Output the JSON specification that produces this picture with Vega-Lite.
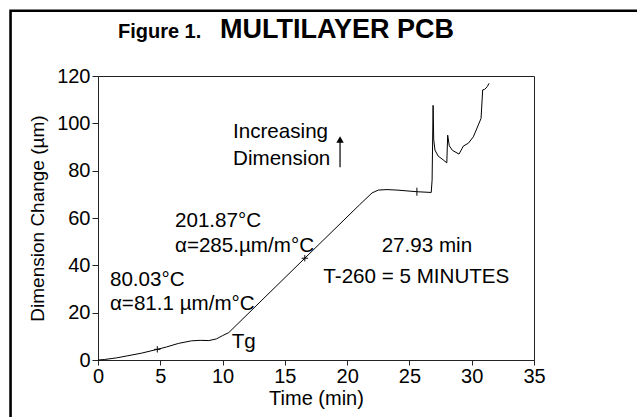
{
  "$schema": "https://vega.github.io/schema/vega-lite/v6.json",
  "autosize": "none",
  "width": 436,
  "height": 284,
  "padding": {"left": 98, "top": 76, "right": 103, "bottom": 57},
  "background": "white",
  "config": {
    "font": "Liberation Sans",
    "view": {"stroke": "#222", "strokeWidth": 1},
    "axis": {
      "domainColor": "#222",
      "tickColor": "#222",
      "labelColor": "black",
      "titleColor": "black",
      "grid": false,
      "labelFont": "Liberation Sans",
      "titleFont": "Liberation Sans",
      "labelFontSize": 20,
      "titleFontSize": 20,
      "titleFontWeight": "normal"
    }
  },
  "datasets": {
    "curve": [
      {"t": 0, "v": 0},
      {"t": 0.5, "v": 0.2},
      {"t": 1.5, "v": 0.9},
      {"t": 2.4, "v": 1.8},
      {"t": 3.5, "v": 2.9},
      {"t": 4.76, "v": 4.5},
      {"t": 5.5, "v": 5.5},
      {"t": 6.45, "v": 7.0},
      {"t": 7.5, "v": 8.1},
      {"t": 8.2, "v": 8.3},
      {"t": 8.9, "v": 8.2},
      {"t": 9.5, "v": 8.9},
      {"t": 10.0, "v": 10.3},
      {"t": 10.5, "v": 11.6},
      {"t": 16.6, "v": 43.0},
      {"t": 21.0, "v": 65.6},
      {"t": 22.0, "v": 70.6},
      {"t": 22.5, "v": 71.8},
      {"t": 23.2, "v": 72.0},
      {"t": 24.0, "v": 71.8},
      {"t": 25.6, "v": 71.1},
      {"t": 26.75, "v": 70.8},
      {"t": 26.82, "v": 76.0},
      {"t": 26.9, "v": 107.6},
      {"t": 26.95, "v": 93.0},
      {"t": 27.05, "v": 88.7},
      {"t": 27.3, "v": 86.2},
      {"t": 27.7, "v": 84.6},
      {"t": 28.0, "v": 83.3},
      {"t": 28.07, "v": 95.0},
      {"t": 28.2, "v": 90.5},
      {"t": 28.45, "v": 88.6},
      {"t": 28.98, "v": 87.0},
      {"t": 29.33, "v": 90.4},
      {"t": 29.73, "v": 91.6},
      {"t": 30.13, "v": 94.3},
      {"t": 30.53, "v": 99.3},
      {"t": 30.75, "v": 102.1},
      {"t": 30.88, "v": 114.1},
      {"t": 31.05, "v": 114.4},
      {"t": 31.25, "v": 115.5},
      {"t": 31.39, "v": 116.9}
    ],
    "crosses": [
      {"t": 4.76, "v": 4.5},
      {"t": 16.6, "v": 43.0}
    ],
    "vticks": [
      {"t": 25.6, "v": 71.1}
    ],
    "labels": [
      {"t": 0.96, "v": 31.3, "label": "80.03°C"},
      {"t": 0.96, "v": 21.1, "label": "α=81.1 µm/m°C"},
      {"t": 6.18, "v": 56.3, "label": "201.87°C"},
      {"t": 6.18, "v": 45.8, "label": "α=285.µm/m°C"},
      {"t": 10.73, "v": 4.9, "label": "Tg"},
      {"t": 10.84, "v": 93.7, "label": "Increasing"},
      {"t": 10.84, "v": 82.4, "label": "Dimension"},
      {"t": 22.77, "v": 45.8, "label": "27.93 min"},
      {"t": 18.09, "v": 32.4, "label": "T-260 = 5 MINUTES"}
    ],
    "titleSmall": [
      {"t": 1.6, "v": 136.0, "label": "Figure 1."}
    ],
    "titleBig": [
      {"t": 9.8, "v": 136.0, "label": "MULTILAYER PCB"}
    ],
    "arrow": [
      {"t": 19.43, "v": 81.4, "v2": 92.5}
    ],
    "arrowHead": [
      {"t": 19.43, "v": 93.2}
    ],
    "frame": [
      {"t": -7.02, "t2": 46, "v": 147.6, "v2": -30}
    ]
  },
  "layer": [
    {
      "data": {"name": "frame"},
      "mark": {"type": "rect", "fill": null, "filled": false, "stroke": "black", "strokeWidth": 2.6, "clip": false},
      "encoding": {
        "x": {"field": "t", "type": "quantitative"},
        "x2": {"field": "t2"},
        "y": {"field": "v", "type": "quantitative"},
        "y2": {"field": "v2"}
      }
    },
    {
      "data": {"name": "curve"},
      "mark": {"type": "line", "color": "black", "strokeWidth": 1},
      "encoding": {
        "x": {
          "field": "t", "type": "quantitative",
          "scale": {"domain": [0, 35], "nice": false, "zero": false},
          "axis": {
            "title": "Time (min)",
            "values": [0, 5, 10, 15, 20, 25, 30, 35],
            "tickSize": 5,
            "labelPadding": 1,
            "titlePadding": 2,
            "labelFlush": false
          }
        },
        "y": {
          "field": "v", "type": "quantitative",
          "scale": {"domain": [0, 120], "nice": false, "zero": false},
          "axis": {
            "title": "Dimension Change (µm)",
            "titleFontSize": 19,
            "values": [0, 20, 40, 60, 80, 100, 120],
            "tickSize": 6,
            "labelPadding": 2,
            "titlePadding": 9,
            "labelFlush": false
          }
        }
      }
    },
    {
      "data": {"name": "crosses"},
      "mark": {"type": "point", "shape": "M-1,0H1M0,-1V1", "filled": false, "stroke": "black", "strokeWidth": 1, "size": 40, "opacity": 1},
      "encoding": {
        "x": {"field": "t", "type": "quantitative"},
        "y": {"field": "v", "type": "quantitative"}
      }
    },
    {
      "data": {"name": "vticks"},
      "mark": {"type": "point", "shape": "M0,-1V1", "filled": false, "stroke": "black", "strokeWidth": 1, "size": 64, "opacity": 1},
      "encoding": {
        "x": {"field": "t", "type": "quantitative"},
        "y": {"field": "v", "type": "quantitative"}
      }
    },
    {
      "data": {"name": "arrow"},
      "mark": {"type": "rule", "color": "black", "strokeWidth": 1.2},
      "encoding": {
        "x": {"field": "t", "type": "quantitative"},
        "y": {"field": "v", "type": "quantitative"},
        "y2": {"field": "v2"}
      }
    },
    {
      "data": {"name": "arrowHead"},
      "mark": {"type": "point", "shape": "triangle-up", "filled": true, "color": "black", "size": 55, "opacity": 1},
      "encoding": {
        "x": {"field": "t", "type": "quantitative"},
        "y": {"field": "v", "type": "quantitative"}
      }
    },
    {
      "data": {"name": "labels"},
      "mark": {"type": "text", "align": "left", "baseline": "alphabetic", "fontSize": 20.6, "font": "Liberation Sans", "color": "black"},
      "encoding": {
        "x": {"field": "t", "type": "quantitative"},
        "y": {"field": "v", "type": "quantitative"},
        "text": {"field": "label"}
      }
    },
    {
      "data": {"name": "titleSmall"},
      "mark": {"type": "text", "align": "left", "baseline": "alphabetic", "fontSize": 20, "fontWeight": "bold", "font": "Liberation Sans", "color": "black"},
      "encoding": {
        "x": {"field": "t", "type": "quantitative"},
        "y": {"field": "v", "type": "quantitative"},
        "text": {"field": "label"}
      }
    },
    {
      "data": {"name": "titleBig"},
      "mark": {"type": "text", "align": "left", "baseline": "alphabetic", "fontSize": 27, "fontWeight": "bold", "font": "Liberation Sans", "color": "black"},
      "encoding": {
        "x": {"field": "t", "type": "quantitative"},
        "y": {"field": "v", "type": "quantitative"},
        "text": {"field": "label"}
      }
    }
  ]
}
